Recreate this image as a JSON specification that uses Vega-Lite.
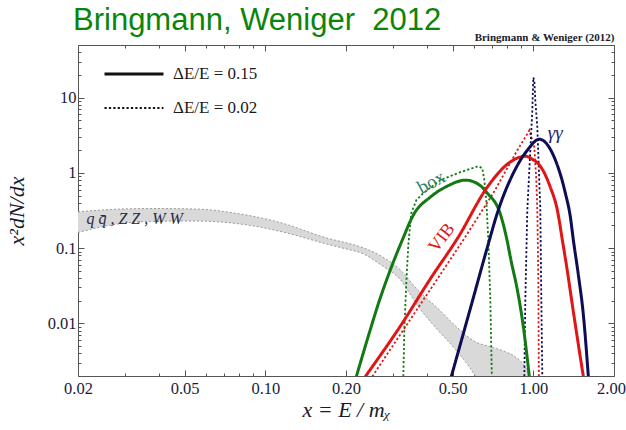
{
  "$schema": "https://vega.github.io/schema/vega-lite/v6.json",
  "width": 536,
  "height": 331,
  "autosize": {"type": "none"},
  "padding": {"left": 78, "top": 45, "right": 12, "bottom": 54},
  "background": "white",
  "title": {
    "text": "Bringmann, Weniger\u00a0 2012",
    "anchor": "start",
    "frame": "group",
    "font": "Liberation Sans",
    "fontSize": 31,
    "fontWeight": "normal",
    "color": "#0a850a",
    "baseline": "alphabetic",
    "dx": -5,
    "dy": 37,
    "offset": 8
  },
  "config": {
    "view": {"stroke": null},
    "axis": {
      "grid": false,
      "domainColor": "#555555",
      "tickColor": "#555555",
      "labelFont": "Liberation Serif",
      "labelFontSize": 16.5,
      "labelColor": "#1a1a3a",
      "titleFont": "Liberation Serif",
      "titleFontStyle": "italic",
      "titleFontWeight": "normal",
      "titleFontSize": 22,
      "titleColor": "#1a1a2a"
    }
  },
  "datasets": {
    "band": [
      {"x": 0.02, "hi": 0.304, "lo": 0.161},
      {"x": 0.0266, "hi": 0.326, "lo": 0.203},
      {"x": 0.0372, "hi": 0.336, "lo": 0.226},
      {"x": 0.0548, "hi": 0.331, "lo": 0.229},
      {"x": 0.0807, "hi": 0.284, "lo": 0.209},
      {"x": 0.112, "hi": 0.222, "lo": 0.169},
      {"x": 0.175, "hi": 0.132, "lo": 0.11},
      {"x": 0.2, "hi": 0.1177, "lo": 0.0977},
      {"x": 0.232, "hi": 0.101, "lo": 0.084},
      {"x": 0.27, "hi": 0.0788, "lo": 0.0599},
      {"x": 0.319, "hi": 0.0514, "lo": 0.0379},
      {"x": 0.37, "hi": 0.0279, "lo": 0.0172},
      {"x": 0.438, "hi": 0.0161, "lo": 0.0083},
      {"x": 0.512, "hi": 0.0093, "lo": 0.0045},
      {"x": 0.607, "hi": 0.0057, "lo": 0.002},
      {"x": 0.691, "hi": 0.0049, "lo": 0.0008},
      {"x": 0.786, "hi": 0.0042, "lo": 0.0008},
      {"x": 0.857, "hi": 0.0036, "lo": 0.0008},
      {"x": 0.934, "hi": 0.0026, "lo": 0.0008},
      {"x": 0.975, "hi": 0.0019, "lo": 0.0008}
    ],
    "wide": [
      {"ch": "box", "res": "ΔE/E = 0.15", "x": 0.2186, "y": 0.00197},
      {"ch": "box", "res": "ΔE/E = 0.15", "x": 0.2464, "y": 0.00825},
      {"ch": "box", "res": "ΔE/E = 0.15", "x": 0.264, "y": 0.0182},
      {"ch": "box", "res": "ΔE/E = 0.15", "x": 0.2927, "y": 0.0514},
      {"ch": "box", "res": "ΔE/E = 0.15", "x": 0.3245, "y": 0.1284},
      {"ch": "box", "res": "ΔE/E = 0.15", "x": 0.3566, "y": 0.2753},
      {"ch": "box", "res": "ΔE/E = 0.15", "x": 0.4128, "y": 0.4767},
      {"ch": "box", "res": "ΔE/E = 0.15", "x": 0.4777, "y": 0.6667},
      {"ch": "box", "res": "ΔE/E = 0.15", "x": 0.5576, "y": 0.8005},
      {"ch": "box", "res": "ΔE/E = 0.15", "x": 0.6232, "y": 0.7085},
      {"ch": "box", "res": "ΔE/E = 0.15", "x": 0.6734, "y": 0.5384},
      {"ch": "box", "res": "ΔE/E = 0.15", "x": 0.7531, "y": 0.2838},
      {"ch": "box", "res": "ΔE/E = 0.15", "x": 0.793, "y": 0.1407},
      {"ch": "box", "res": "ΔE/E = 0.15", "x": 0.8277, "y": 0.0657},
      {"ch": "box", "res": "ΔE/E = 0.15", "x": 0.8716, "y": 0.02795},
      {"ch": "box", "res": "ΔE/E = 0.15", "x": 0.9177, "y": 0.00904},
      {"ch": "box", "res": "ΔE/E = 0.15", "x": 0.9662, "y": 0.00197},
      {"ch": "VIB", "res": "ΔE/E = 0.15", "x": 0.2361, "y": 0.00197},
      {"ch": "VIB", "res": "ΔE/E = 0.15", "x": 0.3189, "y": 0.00918},
      {"ch": "VIB", "res": "ΔE/E = 0.15", "x": 0.4128, "y": 0.0391},
      {"ch": "VIB", "res": "ΔE/E = 0.15", "x": 0.525, "y": 0.1407},
      {"ch": "VIB", "res": "ΔE/E = 0.15", "x": 0.6734, "y": 0.6465},
      {"ch": "VIB", "res": "ΔE/E = 0.15", "x": 0.7998, "y": 1.3038},
      {"ch": "VIB", "res": "ΔE/E = 0.15", "x": 0.879, "y": 1.59},
      {"ch": "VIB", "res": "ΔE/E = 0.15", "x": 0.9336, "y": 1.664},
      {"ch": "VIB", "res": "ΔE/E = 0.15", "x": 0.9914, "y": 1.5185},
      {"ch": "VIB", "res": "ΔE/E = 0.15", "x": 1.062, "y": 1.2264},
      {"ch": "VIB", "res": "ΔE/E = 0.15", "x": 1.157, "y": 0.6465},
      {"ch": "VIB", "res": "ΔE/E = 0.15", "x": 1.229, "y": 0.3206},
      {"ch": "VIB", "res": "ΔE/E = 0.15", "x": 1.2832, "y": 0.1284},
      {"ch": "VIB", "res": "ΔE/E = 0.15", "x": 1.3393, "y": 0.0499},
      {"ch": "VIB", "res": "ΔE/E = 0.15", "x": 1.3979, "y": 0.0177},
      {"ch": "VIB", "res": "ΔE/E = 0.15", "x": 1.459, "y": 0.00647},
      {"ch": "VIB", "res": "ΔE/E = 0.15", "x": 1.537, "y": 0.00197},
      {"ch": "gg", "res": "ΔE/E = 0.15", "x": 0.4943, "y": 0.00197},
      {"ch": "gg", "res": "ΔE/E = 0.15", "x": 0.5818, "y": 0.01566},
      {"ch": "gg", "res": "ΔE/E = 0.15", "x": 0.6793, "y": 0.1137},
      {"ch": "gg", "res": "ΔE/E = 0.15", "x": 0.7339, "y": 0.2925},
      {"ch": "gg", "res": "ΔE/E = 0.15", "x": 0.8422, "y": 0.991},
      {"ch": "gg", "res": "ΔE/E = 0.15", "x": 0.9497, "y": 1.998},
      {"ch": "gg", "res": "ΔE/E = 0.15", "x": 1.0529, "y": 2.795},
      {"ch": "gg", "res": "ΔE/E = 0.15", "x": 1.1875, "y": 1.7155},
      {"ch": "gg", "res": "ΔE/E = 0.15", "x": 1.3167, "y": 0.5384},
      {"ch": "gg", "res": "ΔE/E = 0.15", "x": 1.3745, "y": 0.26},
      {"ch": "gg", "res": "ΔE/E = 0.15", "x": 1.4103, "y": 0.1284},
      {"ch": "gg", "res": "ΔE/E = 0.15", "x": 1.4723, "y": 0.0442},
      {"ch": "gg", "res": "ΔE/E = 0.15", "x": 1.537, "y": 0.01304},
      {"ch": "gg", "res": "ΔE/E = 0.15", "x": 1.6043, "y": 0.00197}
    ],
    "narrow": [
      {"ch": "box", "res": "ΔE/E = 0.02", "x": 0.3273, "y": 0.00197},
      {"ch": "box", "res": "ΔE/E = 0.02", "x": 0.3301, "y": 0.00825},
      {"ch": "box", "res": "ΔE/E = 0.02", "x": 0.3358, "y": 0.0346},
      {"ch": "box", "res": "ΔE/E = 0.02", "x": 0.3416, "y": 0.1103},
      {"ch": "box", "res": "ΔE/E = 0.02", "x": 0.3505, "y": 0.2925},
      {"ch": "box", "res": "ΔE/E = 0.02", "x": 0.366, "y": 0.435},
      {"ch": "box", "res": "ΔE/E = 0.02", "x": 0.3887, "y": 0.5384},
      {"ch": "box", "res": "ΔE/E = 0.02", "x": 0.4498, "y": 0.8005},
      {"ch": "box", "res": "ΔE/E = 0.02", "x": 0.5341, "y": 1.0216},
      {"ch": "box", "res": "ΔE/E = 0.02", "x": 0.6232, "y": 1.2264},
      {"ch": "box", "res": "ΔE/E = 0.02", "x": 0.645, "y": 1.154},
      {"ch": "box", "res": "ΔE/E = 0.02", "x": 0.6562, "y": 0.8005},
      {"ch": "box", "res": "ΔE/E = 0.02", "x": 0.6676, "y": 0.435},
      {"ch": "box", "res": "ΔE/E = 0.02", "x": 0.6793, "y": 0.1284},
      {"ch": "box", "res": "ΔE/E = 0.02", "x": 0.6911, "y": 0.0206},
      {"ch": "box", "res": "ΔE/E = 0.02", "x": 0.7002, "y": 0.00197},
      {"ch": "VIB", "res": "ΔE/E = 0.02", "x": 0.2507, "y": 0.00197},
      {"ch": "VIB", "res": "ΔE/E = 0.02", "x": 0.5481, "y": 0.1284},
      {"ch": "VIB", "res": "ΔE/E = 0.02", "x": 0.7091, "y": 0.5384},
      {"ch": "VIB", "res": "ΔE/E = 0.02", "x": 0.8716, "y": 1.998},
      {"ch": "VIB", "res": "ΔE/E = 0.02", "x": 0.9579, "y": 3.46},
      {"ch": "VIB", "res": "ΔE/E = 0.02", "x": 0.9662, "y": 3.68},
      {"ch": "VIB", "res": "ΔE/E = 0.02", "x": 1.0086, "y": 2.19},
      {"ch": "VIB", "res": "ΔE/E = 0.02", "x": 1.026, "y": 0.8005},
      {"ch": "VIB", "res": "ΔE/E = 0.02", "x": 1.0349, "y": 0.3206},
      {"ch": "VIB", "res": "ΔE/E = 0.02", "x": 1.0439, "y": 0.0379},
      {"ch": "VIB", "res": "ΔE/E = 0.02", "x": 1.0484, "y": 0.00197},
      {"ch": "gg", "res": "ΔE/E = 0.02", "x": 0.9256, "y": 0.00197},
      {"ch": "gg", "res": "ΔE/E = 0.02", "x": 0.9336, "y": 0.0206},
      {"ch": "gg", "res": "ΔE/E = 0.02", "x": 0.9497, "y": 0.3206},
      {"ch": "gg", "res": "ΔE/E = 0.02", "x": 0.9746, "y": 1.998},
      {"ch": "gg", "res": "ΔE/E = 0.02", "x": 0.9914, "y": 6.77},
      {"ch": "gg", "res": "ΔE/E = 0.02", "x": 1.0, "y": 18.51},
      {"ch": "gg", "res": "ΔE/E = 0.02", "x": 1.0086, "y": 16.9},
      {"ch": "gg", "res": "ΔE/E = 0.02", "x": 1.0173, "y": 9.18},
      {"ch": "gg", "res": "ΔE/E = 0.02", "x": 1.0349, "y": 4.03},
      {"ch": "gg", "res": "ΔE/E = 0.02", "x": 1.062, "y": 0.3206},
      {"ch": "gg", "res": "ΔE/E = 0.02", "x": 1.0712, "y": 0.0206},
      {"ch": "gg", "res": "ΔE/E = 0.02", "x": 1.0804, "y": 0.00197}
    ]
  },
  "layer": [
    {
      "data": {"name": "band"},
      "mark": {"type": "area", "color": "#d9d9d9", "clip": true, "interpolate": "monotone"},
      "encoding": {
        "x": {
          "field": "x", "type": "quantitative",
          "scale": {"type": "log", "domain": [0.02, 2], "nice": false},
          "axis": {
            "orient": "bottom",
            "title": "x = E / mᵪ",
            "values": [0.02, 0.03, 0.04, 0.05, 0.06, 0.07, 0.08, 0.09, 0.1, 0.2, 0.3, 0.4, 0.5, 0.6, 0.7, 0.8, 0.9, 1, 2],
            "format": ".2f",
            "labelExpr": "indexof([0.02, 0.05, 0.1, 0.2, 0.5, 1, 2], datum.value) >= 0 ? datum.label : ''",
            "tickSize": {"condition": {"test": "indexof([0.02, 0.05, 0.1, 0.2, 0.5, 1, 2], datum.value) >= 0", "value": -6}, "value": -3},
            "labelPadding": 10,
            "labelOffset": {"condition": {"test": "datum.value == 2", "value": -3}, "value": 0},
            "labelFlush": false,
            "labelOverlap": false,
            "titlePadding": 0
          }
        },
        "y": {
          "field": "hi", "type": "quantitative",
          "scale": {"type": "log", "domain": [0.002, 50], "nice": false},
          "axis": {
            "orient": "left",
            "title": "x²dN/dx",
            "values": [0.003, 0.004, 0.005, 0.006, 0.007, 0.008, 0.009, 0.01, 0.02, 0.03, 0.04, 0.05, 0.06, 0.07, 0.08, 0.09, 0.1, 0.2, 0.3, 0.4, 0.5, 0.6, 0.7, 0.8, 0.9, 1, 2, 3, 4, 5, 6, 7, 8, 9, 10, 20, 30, 40],
            "format": "~g",
            "labelExpr": "indexof([0.01, 0.1, 1, 10], datum.value) >= 0 ? datum.label : ''",
            "tickSize": {"condition": {"test": "indexof([0.01, 0.1, 1, 10], datum.value) >= 0", "value": -6}, "value": -3},
            "labelPadding": 8,
            "labelOverlap": false,
            "titlePadding": 19
          }
        },
        "y2": {"field": "lo"}
      }
    },
    {
      "data": {"name": "band"},
      "mark": {"type": "line", "color": "#9a9a9a", "strokeWidth": 1, "strokeDash": [2, 2], "clip": true, "interpolate": "monotone"},
      "encoding": {
        "x": {
          "field": "x", "type": "quantitative",
          "scale": {"type": "log", "domain": [0.02, 2], "nice": false},
          "axis": {
            "orient": "top",
            "title": "Bringmann & Weniger (2012)",
            "titleFont": "Liberation Serif",
            "titleFontStyle": "normal",
            "titleFontWeight": "bold",
            "titleFontSize": 11,
            "titleColor": "#1a1a2a",
            "titleAnchor": "end",
            "titlePadding": 2,
            "labels": false,
            "values": [0.02, 0.03, 0.04, 0.05, 0.06, 0.07, 0.08, 0.09, 0.1, 0.2, 0.3, 0.4, 0.5, 0.6, 0.7, 0.8, 0.9, 1, 2],
            "tickSize": {"condition": {"test": "indexof([0.02, 0.05, 0.1, 0.2, 0.5, 1, 2], datum.value) >= 0", "value": -6}, "value": -3}
          }
        },
        "y": {
          "field": "hi", "type": "quantitative",
          "scale": {"type": "log", "domain": [0.002, 50], "nice": false},
          "axis": {
            "orient": "right",
            "title": null,
            "labels": false,
            "values": [0.003, 0.004, 0.005, 0.006, 0.007, 0.008, 0.009, 0.01, 0.02, 0.03, 0.04, 0.05, 0.06, 0.07, 0.08, 0.09, 0.1, 0.2, 0.3, 0.4, 0.5, 0.6, 0.7, 0.8, 0.9, 1, 2, 3, 4, 5, 6, 7, 8, 9, 10, 20, 30, 40],
            "tickSize": {"condition": {"test": "indexof([0.01, 0.1, 1, 10], datum.value) >= 0", "value": -6}, "value": -3}
          }
        }
      }
    },
    {
      "data": {"name": "band"},
      "mark": {"type": "line", "color": "#9a9a9a", "strokeWidth": 1, "strokeDash": [2, 2], "clip": true, "interpolate": "monotone"},
      "encoding": {
        "x": {"field": "x", "type": "quantitative", "scale": {"type": "log", "domain": [0.02, 2], "nice": false}, "axis": null},
        "y": {"field": "lo", "type": "quantitative", "scale": {"type": "log", "domain": [0.002, 50], "nice": false}, "axis": null}
      }
    },
    {
      "data": {"name": "narrow"},
      "mark": {"type": "line", "clip": true, "interpolate": "linear"},
      "encoding": {
        "x": {"field": "x", "type": "quantitative", "scale": {"type": "log", "domain": [0.02, 2], "nice": false}, "axis": null},
        "y": {"field": "y", "type": "quantitative", "scale": {"type": "log", "domain": [0.002, 50], "nice": false}, "axis": null},
        "color": {"field": "ch", "type": "nominal", "scale": {"domain": ["box", "VIB", "gg"], "range": ["#137a13", "#e01515", "#0d0d55"]}, "legend": null},
        "strokeDash": {
          "field": "res", "type": "ordinal",
          "scale": {"domain": ["ΔE/E = 0.15", "ΔE/E = 0.02"], "range": [[1, 0], [2.2, 2.2]]},
          "legend": {
            "title": null, "orient": "none", "legendX": 25, "legendY": 14,
            "symbolType": "stroke", "symbolSize": 3481, "symbolStrokeColor": "#111111",
            "labelFont": "Liberation Serif", "labelFontSize": 17, "labelColor": "#1a1a1a",
            "labelOffset": 8, "padding": 0, "rowPadding": 4, "clipHeight": 30
          }
        },
        "strokeWidth": {
          "field": "res", "type": "ordinal",
          "scale": {"domain": ["ΔE/E = 0.15", "ΔE/E = 0.02"], "range": [3, 1.8]},
          "legend": {
            "title": null, "orient": "none", "legendX": 25, "legendY": 14,
            "symbolType": "stroke", "symbolSize": 3481, "symbolStrokeColor": "#111111",
            "labelFont": "Liberation Serif", "labelFontSize": 17, "labelColor": "#1a1a1a",
            "labelOffset": 8, "padding": 0, "rowPadding": 4, "clipHeight": 30
          }
        }
      }
    },
    {
      "data": {"name": "wide"},
      "mark": {"type": "line", "clip": true, "interpolate": "monotone"},
      "encoding": {
        "x": {"field": "x", "type": "quantitative", "scale": {"type": "log", "domain": [0.02, 2], "nice": false}, "axis": null},
        "y": {"field": "y", "type": "quantitative", "scale": {"type": "log", "domain": [0.002, 50], "nice": false}, "axis": null},
        "color": {"field": "ch", "type": "nominal", "scale": {"domain": ["box", "VIB", "gg"], "range": ["#137a13", "#e01515", "#0d0d55"]}, "legend": null},
        "strokeDash": {
          "field": "res", "type": "ordinal",
          "scale": {"domain": ["ΔE/E = 0.15", "ΔE/E = 0.02"], "range": [[1, 0], [2.2, 2.2]]},
          "legend": {
            "title": null, "orient": "none", "legendX": 25, "legendY": 14,
            "symbolType": "stroke", "symbolSize": 3481, "symbolStrokeColor": "#111111",
            "labelFont": "Liberation Serif", "labelFontSize": 17, "labelColor": "#1a1a1a",
            "labelOffset": 8, "padding": 0, "rowPadding": 4, "clipHeight": 30
          }
        },
        "strokeWidth": {
          "field": "res", "type": "ordinal",
          "scale": {"domain": ["ΔE/E = 0.15", "ΔE/E = 0.02"], "range": [3, 1.8]},
          "legend": {
            "title": null, "orient": "none", "legendX": 25, "legendY": 14,
            "symbolType": "stroke", "symbolSize": 3481, "symbolStrokeColor": "#111111",
            "labelFont": "Liberation Serif", "labelFontSize": 17, "labelColor": "#1a1a1a",
            "labelOffset": 8, "padding": 0, "rowPadding": 4, "clipHeight": 30
          }
        }
      }
    },
    {
      "data": {"values": [{"label": "q q̄ , Z Z , W W", "x": 0.0215, "y": 0.2414}]},
      "mark": {"type": "text", "align": "left", "baseline": "middle", "font": "Liberation Serif", "fontStyle": "italic", "fontSize": 16, "color": "#2a2a44"},
      "encoding": {
        "x": {"field": "x", "type": "quantitative", "scale": {"type": "log", "domain": [0.02, 2], "nice": false}, "axis": null},
        "y": {"field": "y", "type": "quantitative", "scale": {"type": "log", "domain": [0.002, 50], "nice": false}, "axis": null},
        "text": {"field": "label"}
      }
    },
    {
      "data": {"values": [{"label": "box", "x": 0.4164, "y": 0.753}]},
      "mark": {"type": "text", "align": "center", "baseline": "middle", "font": "Liberation Serif", "fontSize": 19, "angle": -28, "color": "#2b7f66"},
      "encoding": {
        "x": {"field": "x", "type": "quantitative", "scale": {"type": "log", "domain": [0.02, 2], "nice": false}, "axis": null},
        "y": {"field": "y", "type": "quantitative", "scale": {"type": "log", "domain": [0.002, 50], "nice": false}, "axis": null},
        "text": {"field": "label"}
      }
    },
    {
      "data": {"values": [{"label": "VIB", "x": 0.4564, "y": 0.1365}]},
      "mark": {"type": "text", "align": "center", "baseline": "middle", "font": "Liberation Serif", "fontSize": 18, "angle": -52, "color": "#e01515"},
      "encoding": {
        "x": {"field": "x", "type": "quantitative", "scale": {"type": "log", "domain": [0.02, 2], "nice": false}, "axis": null},
        "y": {"field": "y", "type": "quantitative", "scale": {"type": "log", "domain": [0.002, 50], "nice": false}, "axis": null},
        "text": {"field": "label"}
      }
    },
    {
      "data": {"values": [{"label": "γγ", "x": 1.208, "y": 3.357}]},
      "mark": {"type": "text", "align": "center", "baseline": "middle", "font": "Liberation Serif", "fontStyle": "italic", "fontSize": 19, "color": "#24246a"},
      "encoding": {
        "x": {"field": "x", "type": "quantitative", "scale": {"type": "log", "domain": [0.02, 2], "nice": false}, "axis": null},
        "y": {"field": "y", "type": "quantitative", "scale": {"type": "log", "domain": [0.002, 50], "nice": false}, "axis": null},
        "text": {"field": "label"}
      }
    }
  ],
  "resolve": {"axis": {"x": "independent", "y": "independent"}}
}
